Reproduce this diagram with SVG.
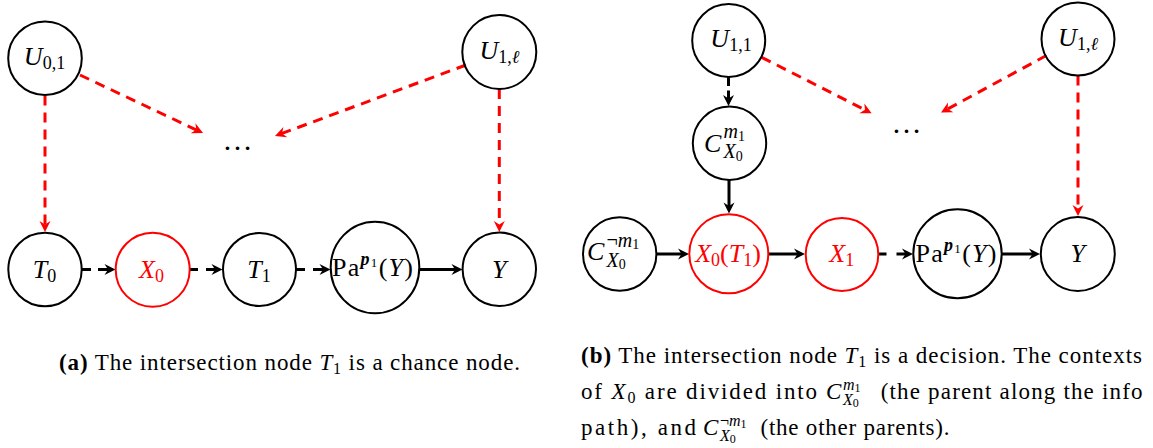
<svg xmlns="http://www.w3.org/2000/svg" width="1153" height="448" viewBox="0 0 1153 448">
<style>
.nd{fill:none;stroke:#000;stroke-width:2}
.nr{fill:none;stroke:#f00;stroke-width:2}
.lb{font-family:"Liberation Serif","DejaVu Serif",serif;font-size:26px;fill:#000}
.sc{font-family:"Liberation Serif","DejaVu Serif",serif;font-size:20px;fill:#000}
.lr{fill:#f00}
.it{font-style:italic}
.e{fill:none;stroke:#000;stroke-width:3}
.er{fill:none;stroke:#f00;stroke-width:3;stroke-dasharray:10 7}
.cap{font-family:"Liberation Serif","DejaVu Serif",serif;font-size:23px;fill:#000}
.cs{font-family:"Liberation Serif","DejaVu Serif",serif;font-size:16px;fill:#000}
</style>
<defs>
<marker id="ah" markerUnits="userSpaceOnUse" viewBox="-7 -7 14 14" markerWidth="14" markerHeight="14" refX="0" refY="0" orient="auto"><path d="M5,0 L-6,-5.5 L-2.5,0 L-6,5.5 Z" fill="#000"/></marker>
<marker id="ahr" markerUnits="userSpaceOnUse" viewBox="-7 -7 14 14" markerWidth="14" markerHeight="14" refX="0" refY="0" orient="auto"><path d="M5,0 L-6,-5.5 L-2.5,0 L-6,5.5 Z" fill="#f00"/></marker>
</defs>

<g id="connectors">
<path class="e" d="M82,269.5 H110.5" stroke-dasharray="9 7 100" marker-end="url(#ah)"/>
<path class="e" d="M189.5,269.5 H217.5" stroke-dasharray="8.5 8 100" marker-end="url(#ah)"/>
<path class="e" d="M296,269.5 H325.5" stroke-dasharray="9 8 100" marker-end="url(#ah)"/>
<path class="e" d="M419.5,269.5 H457.5" marker-end="url(#ah)"/>
<path class="er" d="M45,95.5 V227" marker-end="url(#ahr)"/>
<path class="er" d="M80,75 L198.5,130.9" marker-end="url(#ahr)"/>
<path class="er" d="M466,65 L279.7,134.3" marker-end="url(#ahr)"/>
<path class="er" d="M499.3,89 V227" marker-end="url(#ahr)"/>

<path class="e" d="M728.5,77 V101" stroke-dasharray="9 4.5 100" marker-end="url(#ah)"/>
<path class="e" d="M729,180 V208.5" marker-end="url(#ah)"/>
<path class="e" d="M656.7,254 H684" marker-end="url(#ah)"/>
<path class="e" d="M768.3,254 H800" marker-end="url(#ah)"/>
<path class="e" d="M878.5,254 H908" stroke-dasharray="8 10 100" marker-end="url(#ah)"/>
<path class="e" d="M1001.7,254 H1035" marker-end="url(#ah)"/>
<path class="er" d="M761.7,57.3 L867.2,111" marker-end="url(#ahr)"/>
<path class="er" d="M1046.4,55.5 L945.4,110.2" marker-end="url(#ahr)"/>
<path class="er" d="M1078,75.5 V211" marker-end="url(#ahr)"/>
</g>

<g id="a-U01"><circle class="nd" cx="45" cy="58.3" r="36.8"/>
<text class="lb" x="44.5" y="64.5" text-anchor="middle"><tspan class="it">U</tspan><tspan dy="4" style="font-size:18px">0,1</tspan></text></g>
<g id="a-U1l"><circle class="nd" cx="499.3" cy="52" r="37"/>
<text class="lb" x="499.3" y="58.5" text-anchor="middle"><tspan class="it">U</tspan><tspan dy="4" style="font-size:18px">1,<tspan class="it">ℓ</tspan></tspan></text></g>
<g id="a-dots"><text class="lb" x="237.5" y="150" text-anchor="middle" style="font-size:30px">…</text></g>
<g id="a-T0"><circle class="nd" cx="45" cy="269.5" r="36.7"/>
<text class="lb" x="44.5" y="277.5" text-anchor="middle"><tspan class="it">T</tspan><tspan dy="4" style="font-size:18px">0</tspan></text></g>
<g id="a-X0"><circle class="nr" cx="152.7" cy="269.7" r="37"/>
<text class="lb lr" x="151.5" y="277.5" text-anchor="middle"><tspan class="it">X</tspan><tspan dy="4" style="font-size:18px">0</tspan></text></g>
<g id="a-T1"><circle class="nd" cx="259.5" cy="269.5" r="36.5"/>
<text class="lb" x="259" y="277.5" text-anchor="middle"><tspan class="it">T</tspan><tspan dy="4" style="font-size:18px">1</tspan></text></g>
<g id="a-Pa"><ellipse class="nd" cx="375" cy="267.5" rx="44.3" ry="45.8"/>
<text class="lb" x="372.5" y="276" text-anchor="middle" textLength="81" lengthAdjust="spacing">Pa<tspan dy="-11" style="font-size:18px;font-weight:bold;font-style:italic">p</tspan><tspan dy="2" style="font-size:13px">1</tspan><tspan dy="9">(</tspan><tspan class="it">Y</tspan>)</text></g>
<g id="a-Y"><circle class="nd" cx="499.3" cy="269.3" r="36.7"/>
<text class="lb it" x="499.3" y="277.5" text-anchor="middle">Y</text></g>

<g id="b-U11"><circle class="nd" cx="728.7" cy="40.5" r="36.5"/>
<text class="lb" x="731" y="47" text-anchor="middle"><tspan class="it">U</tspan><tspan dy="4" style="font-size:18px">1,1</tspan></text></g>
<g id="b-U1l"><circle class="nd" cx="1078" cy="39" r="36.5"/>
<text class="lb" x="1078" y="45.5" text-anchor="middle"><tspan class="it">U</tspan><tspan dy="4" style="font-size:18px">1,<tspan class="it">ℓ</tspan></tspan></text></g>
<g id="b-dots"><text class="lb" x="906.5" y="133" text-anchor="middle" style="font-size:30px">…</text></g>
<g id="b-Cm"><circle class="nd" cx="729.5" cy="143.3" r="36.7"/>
<text class="lb it" x="704" y="151.7">C</text>
<text class="sc" x="723.5" y="138.3"><tspan class="it">m</tspan><tspan dy="2.5" style="font-size:14px">1</tspan></text>
<text class="sc" x="723.5" y="158"><tspan class="it">X</tspan><tspan dy="2.5" style="font-size:14px">0</tspan></text></g>
<g id="b-Cnm"><circle class="nd" cx="619.7" cy="254" r="36.7"/>
<text class="lb it" x="587" y="260">C</text>
<text class="sc" x="606.5" y="246.5">¬<tspan class="it">m</tspan><tspan dy="2.5" style="font-size:14px">1</tspan></text>
<text class="sc" x="606.5" y="266.5"><tspan class="it">X</tspan><tspan dy="2.5" style="font-size:14px">0</tspan></text></g>
<g id="b-X0T1"><circle class="nr" cx="728.8" cy="253.8" r="39.5"/>
<text class="lb lr" x="728" y="262" text-anchor="middle"><tspan class="it">X</tspan><tspan dy="4" style="font-size:18px">0</tspan><tspan dy="-4">(</tspan><tspan class="it">T</tspan><tspan dy="4" style="font-size:18px">1</tspan><tspan dy="-4">)</tspan></text></g>
<g id="b-X1"><ellipse class="nr" cx="842" cy="254.5" rx="36.3" ry="36.5"/>
<text class="lb lr" x="841.7" y="262" text-anchor="middle"><tspan class="it">X</tspan><tspan dy="4" style="font-size:18px">1</tspan></text></g>
<g id="b-Pa"><ellipse class="nd" cx="957.5" cy="253.8" rx="44.2" ry="44.5"/>
<text class="lb" x="956" y="262" text-anchor="middle" textLength="81" lengthAdjust="spacing">Pa<tspan dy="-11" style="font-size:18px;font-weight:bold;font-style:italic">p</tspan><tspan dy="2" style="font-size:13px">1</tspan><tspan dy="9">(</tspan><tspan class="it">Y</tspan>)</text></g>
<g id="b-Y"><circle class="nd" cx="1077.8" cy="254" r="37"/>
<text class="lb it" x="1077.8" y="262" text-anchor="middle">Y</text></g>

<g id="caption-a">
<text class="cap" x="59" y="370" textLength="461" lengthAdjust="spacing"><tspan font-weight="bold">(a)</tspan> The intersection node <tspan class="it">T</tspan><tspan dy="4" style="font-size:16px">1</tspan><tspan dy="-4"> is a chance node.</tspan></text>
</g>
<g id="caption-b">
<text class="cap" x="581" y="363" textLength="561" lengthAdjust="spacing"><tspan font-weight="bold">(b)</tspan> The intersection node <tspan class="it">T</tspan><tspan dy="4" style="font-size:16px">1</tspan><tspan dy="-4"> is a decision. The contexts</tspan></text>
<text class="cap" x="581" y="398.5" textLength="236" lengthAdjust="spacing">of <tspan class="it">X</tspan><tspan dy="4" style="font-size:16px">0</tspan><tspan dy="-4"> are divided into</tspan></text>
<text class="cap it" x="826" y="398.5">C</text>
<text class="cs" x="843" y="390"><tspan class="it">m</tspan><tspan dy="2" style="font-size:12px">1</tspan></text>
<text class="cs" x="843" y="405"><tspan class="it">X</tspan><tspan dy="2" style="font-size:12px">0</tspan></text>
<text class="cap" x="880.7" y="398.5" textLength="261.8" lengthAdjust="spacing">(the parent along the info</text>
<text class="cap" x="581" y="434.5" textLength="115" lengthAdjust="spacing">path), and</text>
<text class="cap it" x="703" y="434.5">C</text>
<text class="cs" x="720" y="426">¬<tspan class="it">m</tspan><tspan dy="2" style="font-size:12px">1</tspan></text>
<text class="cs" x="720" y="441"><tspan class="it">X</tspan><tspan dy="2" style="font-size:12px">0</tspan></text>
<text class="cap" x="760.5" y="434.5" textLength="189" lengthAdjust="spacing">(the other parents).</text>
</g>
</svg>
